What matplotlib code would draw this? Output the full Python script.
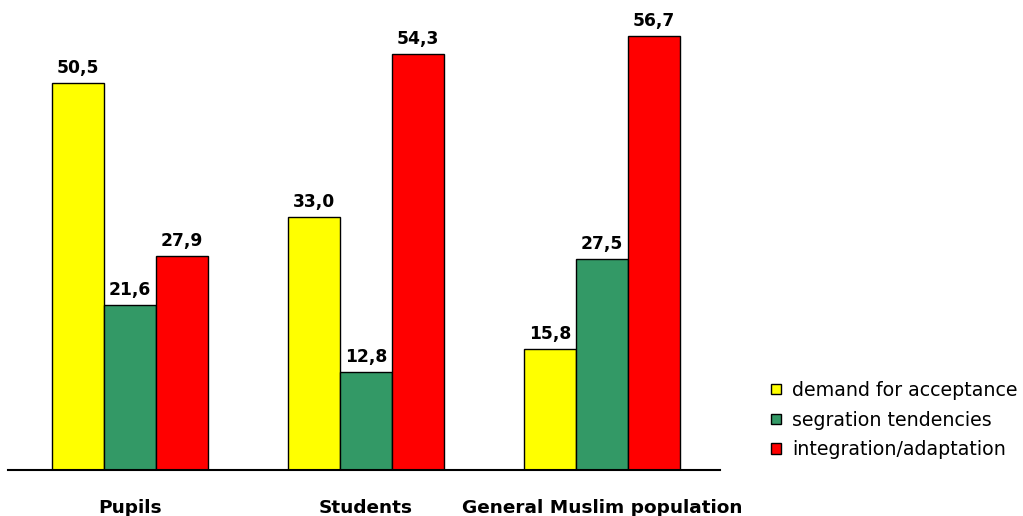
import matplotlib
matplotlib.use("Agg")
import matplotlib.pyplot as plt
import matplotlib.transforms as mtransforms
import numpy as np

categories = ["Pupils", "Students", "General Muslim population"]
series_names = ["demand for acceptance", "segration tendencies", "integration/adaptation"]
demand = [50.5, 33.0, 15.8]
segregation = [21.6, 12.8, 27.5]
integration = [27.9, 54.3, 56.7]
colors = ["#FFFF00", "#339966", "#FF0000"]

plt.rcParams['font.family'] = ['DejaVu Sans']

fig = plt.figure(figsize=(10.23, 5.16), dpi=100)
ax = fig.add_axes([8/1023, 46/516, 712/1023, 470/516])

x = np.arange(len(categories))
w = 0.22
for i, (vals, name, c) in enumerate(zip([demand, segregation, integration], series_names, colors)):
    pos = x + (i - 1) * w
    bars = ax.bar(pos, vals, w, color=c, edgecolor="black", linewidth=1.0, label=name)
    for b, v in zip(bars, vals):
        ax.text(b.get_x() + b.get_width() / 2, v + 0.8, f"{v:.1f}".replace(".", ","),
                ha="center", va="bottom", fontsize=12.3, fontweight="bold")

ax.set_xlim(-0.517, 2.5)
ax.set_ylim(0, 61.4)
for s in ["top", "right", "left"]:
    ax.spines[s].set_visible(False)
ax.spines["bottom"].set_linewidth(1.5)
ax.set_yticks([])
ax.set_xticks([])

trans = mtransforms.blended_transform_factory(ax.transData, fig.transFigure)
for xi, cat in zip(x, categories):
    ax.text(xi, 1 - 513/516, cat, transform=trans, ha="center", va="baseline",
            fontsize=13.3, fontweight="bold", clip_on=False)

leg = fig.legend(loc="upper left", bbox_to_anchor=(771/1023, 1 - 381/516), frameon=False,
                 fontsize=13.7, handlelength=0.52, handleheight=0.45, handletextpad=0.6,
                 labelspacing=0.56, borderpad=0, borderaxespad=0)

fig.savefig("out.png", dpi=100)
